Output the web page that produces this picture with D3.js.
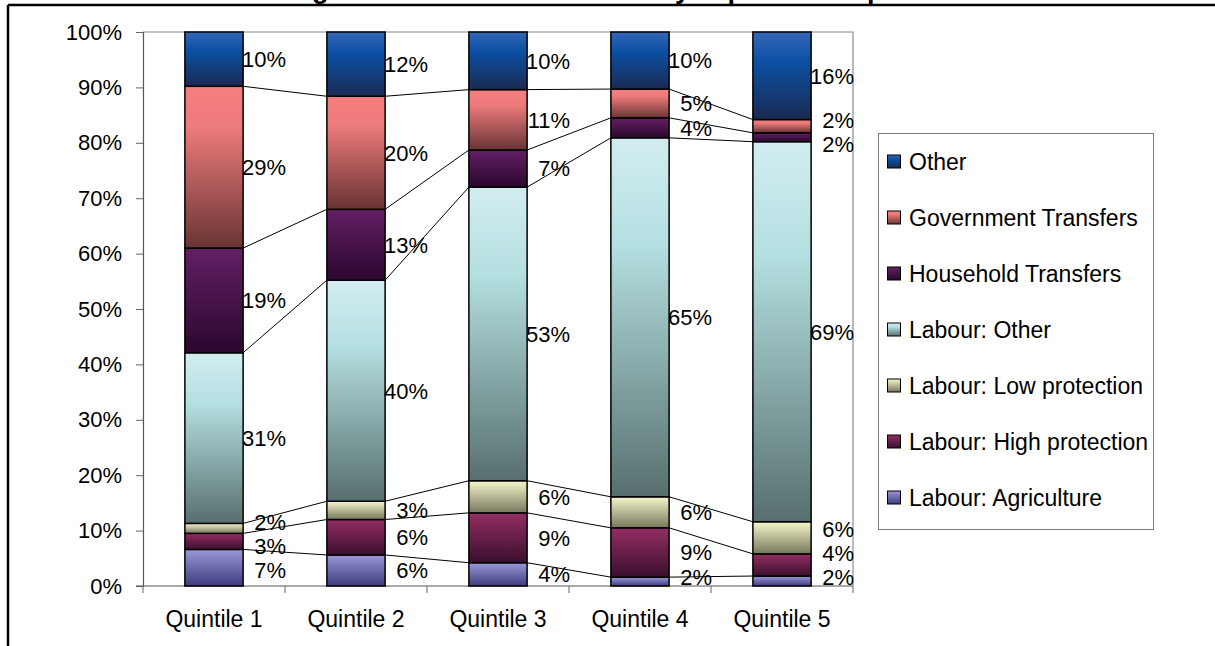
<!DOCTYPE html>
<html><head><meta charset="utf-8">
<script src="https://cdn.jsdelivr.net/npm/d3@7"></script>
<style>
body{margin:0;background:#fff}
svg{display:block}
text{font-family:"Liberation Sans",Arial,sans-serif;fill:#000}
</style>
</head><body>
<svg id="chart" width="1215" height="646"></svg>
<script>
// ---- data (percent shares, stacked bottom to top) ----
const title = "Figure 2: Sources of income by expenditure quintile";
const categories = ["Quintile 1", "Quintile 2", "Quintile 3", "Quintile 4", "Quintile 5"];
const seriesNames = ["Labour: Agriculture", "Labour: High protection", "Labour: Low protection",
  "Labour: Other", "Household Transfers", "Government Transfers", "Other"];
const agriculture         = [6.6, 5.6, 4.2, 1.6, 1.8];
const highProtection      = [2.9, 6.4, 9.0, 8.9, 4.0];
const lowProtection       = [1.8, 3.3, 5.8, 5.6, 5.8];
const labourOther         = [30.8, 39.9, 53.0, 64.8, 68.6];
const householdTransfers  = [18.9, 12.8, 6.7, 3.6, 1.6];
const governmentTransfers = [29.2, 20.4, 10.9, 5.2, 2.4];
const other               = [9.8, 11.6, 10.4, 10.3, 15.8];
const yTicks = [0, 10, 20, 30, 40, 50, 60, 70, 80, 90, 100];

const seriesValues = [agriculture, highProtection, lowProtection, labourOther,
  householdTransfers, governmentTransfers, other];

// ---- styles ----
const gradStops = [
  [["0", "#9c98d8"], ["1", "#3c3c7e"]],
  [["0", "#942e62"], ["1", "#3a0f2e"]],
  [["0", "#f7f7cc"], ["1", "#77775c"]],
  [["0", "#d2edf1"], ["0.3", "#b4dfe0"], ["1", "#576f6e"]],
  [["0", "#621f64"], ["1", "#2b072e"]],
  [["0", "#f47f7f"], ["0.25", "#ee7b7b"], ["1", "#693434"]],
  [["0", "#3466b8"], ["0.35", "#0b4fa2"], ["1", "#1b2a52"]]
];

const table = categories.map((c, i) => {
  const row = {cat: c};
  seriesNames.forEach((s, j) => row[s] = seriesValues[j][i]);
  return row;
});
const stacked = d3.stack().keys(seriesNames)(table);

const svg = d3.select("#chart");
const defs = svg.append("defs");
gradStops.forEach((stops, j) => {
  const g = defs.append("linearGradient").attr("id", "g" + j)
    .attr("x1", 0).attr("y1", 0).attr("x2", 0).attr("y2", 1);
  stops.forEach(s => g.append("stop").attr("offset", s[0]).attr("stop-color", s[1]));
});

const plot = {left: 143, right: 853, top: 32, bottom: 586};
const x = d3.scaleBand().domain(categories).range([plot.left, plot.right])
  .paddingInner(0.59).paddingOuter(0.295);
const y = d3.scaleLinear().domain([0, 100]).range([plot.bottom, plot.top]);

// frame
svg.append("line").attr("x1", 8).attr("x2", 1215).attr("y1", 5).attr("y2", 5)
  .attr("stroke", "#000").attr("stroke-width", 2.5);
svg.append("line").attr("x1", 8).attr("x2", 8).attr("y1", 5).attr("y2", 646)
  .attr("stroke", "#000").attr("stroke-width", 2.5);

// title (cut off at top, as in the source)
svg.append("text").attr("x", 288).attr("y", -2.5)
  .attr("font-size", 27).attr("font-weight", "bold").text(title);

// plot border (top & right)
svg.append("path")
  .attr("d", `M${plot.left},${plot.top}H${plot.right}V${plot.bottom}`)
  .attr("fill", "none").attr("stroke", "#8c8c8c").attr("stroke-width", 1.2);

// y axis
const yAxis = svg.append("g").attr("transform", `translate(${plot.left},0)`)
  .call(d3.axisLeft(y).tickValues(yTicks).tickSize(7).tickPadding(14)
    .tickFormat(d => d + "%"));
yAxis.selectAll("text").attr("font-size", 22).attr("font-family", "Liberation Sans, Arial, sans-serif");
yAxis.selectAll("line").attr("stroke", "#666");
yAxis.select(".domain").attr("stroke", "#555").attr("stroke-width", 1.2);

// x axis
const boundaries = d3.range(categories.length + 1).map(i => plot.left + i * x.step());
svg.append("line").attr("x1", plot.left - 7).attr("x2", plot.right)
  .attr("y1", plot.bottom).attr("y2", plot.bottom).attr("stroke", "#555").attr("stroke-width", 1.2);
svg.append("g").selectAll("line").data(boundaries).join("line")
  .attr("x1", d => d).attr("x2", d => d).attr("y1", plot.bottom).attr("y2", plot.bottom + 7)
  .attr("stroke", "#666");
svg.append("g").selectAll("text").data(categories).join("text")
  .attr("x", d => x(d) + x.bandwidth() / 2).attr("y", 627)
  .attr("text-anchor", "middle").attr("font-size", 23).text(d => d);

// series lines
const sl = svg.append("g");
stacked.forEach(layer => {
  if (layer.index === stacked.length - 1) return;
  for (let i = 0; i < categories.length - 1; i++) {
    sl.append("line")
      .attr("x1", x(categories[i]) + x.bandwidth()).attr("y1", y(layer[i][1]))
      .attr("x2", x(categories[i + 1])).attr("y2", y(layer[i + 1][1]))
      .attr("stroke", "#000").attr("stroke-width", 1);
  }
});

// bars
svg.append("g").selectAll("g").data(stacked).join("g")
  .attr("fill", (d, j) => `url(#g${j})`)
  .selectAll("rect").data(d => d).join("rect")
  .attr("x", d => x(d.data.cat)).attr("width", x.bandwidth())
  .attr("y", d => y(d[1])).attr("height", d => y(d[0]) - y(d[1]))
  .attr("stroke", "#000").attr("stroke-width", 1.5);

// data labels: segment centers, de-overlapped per category
const minGap = 24;
const maxY = plot.bottom - 9;
categories.forEach((c, i) => {
  let labs = stacked.map(layer => ({
    y: y((layer[i][0] + layer[i][1]) / 2),
    t: Math.round(layer[i][1] - layer[i][0]) + "%"
  }));
  labs.sort((a, b) => a.y - b.y);
  let clusters = labs.map(l => ({items: [l], c: l.y}));
  const half = cl => (cl.items.length - 1) * minGap / 2;
  let changed = true, guard = 0;
  while (changed && guard++ < 100) {
    changed = false;
    // clamp last cluster to the axis
    const last = clusters[clusters.length - 1];
    if (last.c + half(last) > maxY) { last.c = maxY - half(last); }
    for (let k = 0; k < clusters.length - 1; k++) {
      const a = clusters[k], b = clusters[k + 1];
      if ((b.c - half(b)) - (a.c + half(a)) < minGap - 0.01) {
        const items = a.items.concat(b.items);
        let c2 = d3.mean(items, it => it.y);
        clusters.splice(k, 2, {items, c: c2});
        changed = true;
        break;
      }
    }
  }
  clusters.forEach(cl => {
    cl.items.forEach((it, k) => {
      it.py = cl.c + (k - (cl.items.length - 1) / 2) * minGap;
    });
  });
  svg.append("g").selectAll("text").data(labs).join("text")
    .attr("x", x(c) + x.bandwidth() + 43).attr("y", d => d.py).attr("dy", "0.36em")
    .attr("text-anchor", "end").attr("font-size", 22).text(d => d.t);
});

// legend
const lg = svg.append("g");
lg.append("rect").attr("x", 878.5).attr("y", 133.5).attr("width", 275).attr("height", 396)
  .attr("fill", "#fff").attr("stroke", "#7a7a7a").attr("stroke-width", 1);
const legendOrder = seriesNames.map((s, j) => j).reverse();
legendOrder.forEach((j, k) => {
  const cy = 162 + k * 56;
  lg.append("rect").attr("x", 887.5).attr("y", cy - 7).attr("width", 13).attr("height", 13)
    .attr("fill", `url(#g${j})`).attr("stroke", "#000").attr("stroke-width", 1);
  lg.append("text").attr("x", 909).attr("y", cy).attr("dy", "0.36em")
    .attr("font-size", 23).text(seriesNames[j]);
});
</script>
</body></html>
